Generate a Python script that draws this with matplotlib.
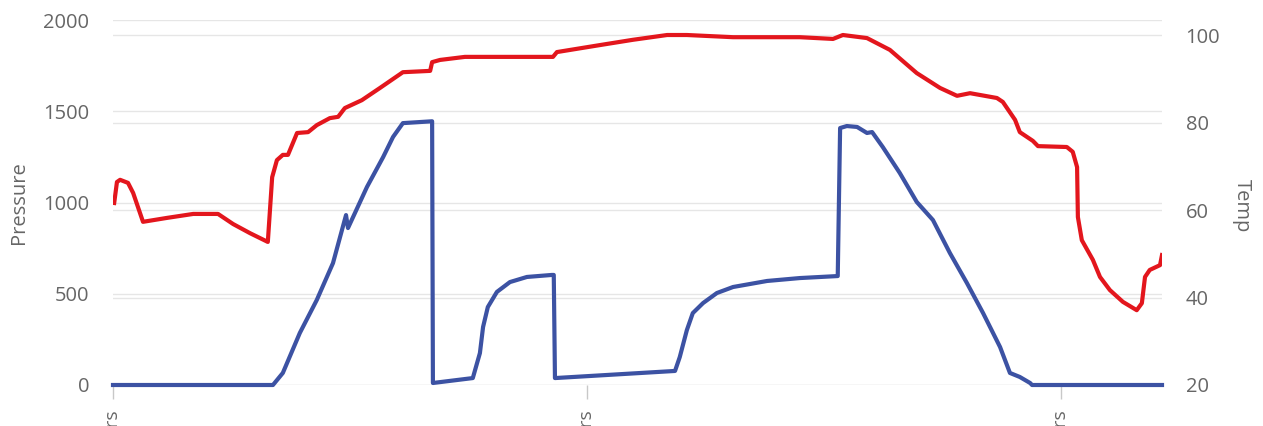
import matplotlib
matplotlib.use('Agg')
import matplotlib.pyplot as plt

# waktu dalam jam, tekanan (sumbu kiri)
p_hours = [0, 4.05, 4.30, 4.73, 5.16, 5.57, 5.90, 5.95, 6.43, 6.84, 7.09, 7.34, 8.08,
           8.10, 9.11, 9.29, 9.37, 9.49, 9.72, 10.05, 10.48, 11.11, 11.16,
           11.19, 14.23, 14.35, 14.53, 14.68, 14.94, 15.29, 15.70, 16.56, 17.39, 18.35,
           18.41, 18.58, 18.84, 19.09, 19.22, 19.49, 19.92, 20.35, 20.76, 21.19, 21.62,
           22.03, 22.46, 22.71, 22.96, 23.22, 23.27, 26.56]
pressure = [0, 0, 66, 285, 466, 668, 931, 860, 1085, 1249, 1359, 1435, 1445,
            11, 38, 175, 318, 427, 510, 564, 592, 603, 603,
            38, 77, 153, 301, 394, 449, 504, 537, 570, 586, 597,
            1408, 1419, 1414, 1381, 1386, 1304, 1162, 1003, 904, 723, 559,
            394, 208, 66, 44, 11, 0, 0]

# suhu (sumbu kanan)
t_hours = [0.03, 0.10, 0.18, 0.38, 0.51, 0.76, 1.37, 2.03, 2.66, 3.04, 3.47, 3.92,
           4.03, 4.15, 4.30, 4.43, 4.66, 4.94, 5.16, 5.49, 5.70, 5.87, 6.30, 6.76,
           7.34, 8.03, 8.08, 8.28, 8.91, 11.14, 11.24, 12.33, 13.16, 14.03, 14.53,
           15.70, 17.39, 18.23, 18.48, 19.09, 19.67, 20.35, 20.94, 21.37, 21.70,
           22.38, 22.53, 22.84, 22.96, 23.29, 23.42, 24.15, 24.30, 24.41, 24.43,
           24.53, 24.81, 24.99, 25.24, 25.57, 25.92, 26.05, 26.13, 26.25, 26.51, 26.56]
temp = [61.6, 66.4, 66.9, 66.2, 63.9, 57.3, 58.2, 59.1, 59.1, 56.8, 54.7, 52.7,
        67.5, 71.4, 72.6, 72.6, 77.6, 77.8, 79.4, 81.0, 81.3, 83.3, 85.1, 87.9,
        91.5, 91.8, 93.8, 94.3, 95.0, 95.0, 96.1, 97.7, 98.9, 100.0, 100.0,
        99.5, 99.5, 99.1, 100.0, 99.3, 96.6, 91.3, 87.9, 86.1, 86.7,
        85.6, 84.7, 80.6, 77.8, 75.8, 74.6, 74.4, 73.3, 69.8, 58.4,
        53.1, 48.6, 44.7, 41.7, 39.0, 37.1, 38.7, 44.7, 46.3, 47.4, 49.7]

x_ticks = [0, 12, 24]
x_labels = ['0 hrs', '12 hrs', '24 hrs']
p_ticks = [0, 500, 1000, 1500, 2000]
t_ticks = [20, 40, 60, 80, 100]

plt.rcParams['font.family'] = ['Open Sans', 'DejaVu Sans']
grey = '#666666'
grid_c = '#e6e6e6'

fig = plt.figure(figsize=(12.63, 4.26), dpi=100)
ax = fig.add_axes([113/1263, 41/426, 1049/1263, 365/426])
ax2 = ax.twinx()

ax.set_xlim(0, 26.56)
ax.set_ylim(0, 2000)
ax2.set_ylim(20, 103.43)

ax.set_yticks(p_ticks)
ax2.set_yticks(t_ticks)
ax.grid(axis='y', color=grid_c, lw=1)
ax2.grid(axis='y', color=grid_c, lw=1)
ax2.set_axisbelow(True)

# merah di sumbu kanan, biru pakai skala kiri tapi digambar di atas grid kanan
ax2.plot(t_hours, temp, color='#e3161d', lw=3, solid_joinstyle='round', zorder=3)
ax2.plot(p_hours, pressure, color='#3c52a3', lw=3, transform=ax.transData,
         solid_joinstyle='round', clip_on=False, zorder=4)

for a in (ax, ax2):
    for s in a.spines.values():
        s.set_visible(False)

ax.tick_params(axis='y', length=0, pad=17, labelsize=14.5, labelcolor=grey)
ax2.tick_params(axis='y', length=0, pad=17, labelsize=14.5, labelcolor=grey)
ax.set_xticks(x_ticks)
ax.set_xticklabels(x_labels, rotation=90, va='top', ha='center')
ax.tick_params(axis='x', length=10, width=1, color='#c8c8c8', pad=8,
               labelsize=14, labelcolor=grey)

ax.set_ylabel('Pressure', fontsize=14.5, color=grey)
ax2.set_ylabel('Temp', fontsize=14.5, color=grey, rotation=270)
ax.yaxis.set_label_coords(-(113-29)/1049, 0.5)
ax2.yaxis.set_label_coords((1252-113)/1049, 0.49)
ax2.yaxis.label.set_va('top')

fig.savefig('out.png', dpi=100)
